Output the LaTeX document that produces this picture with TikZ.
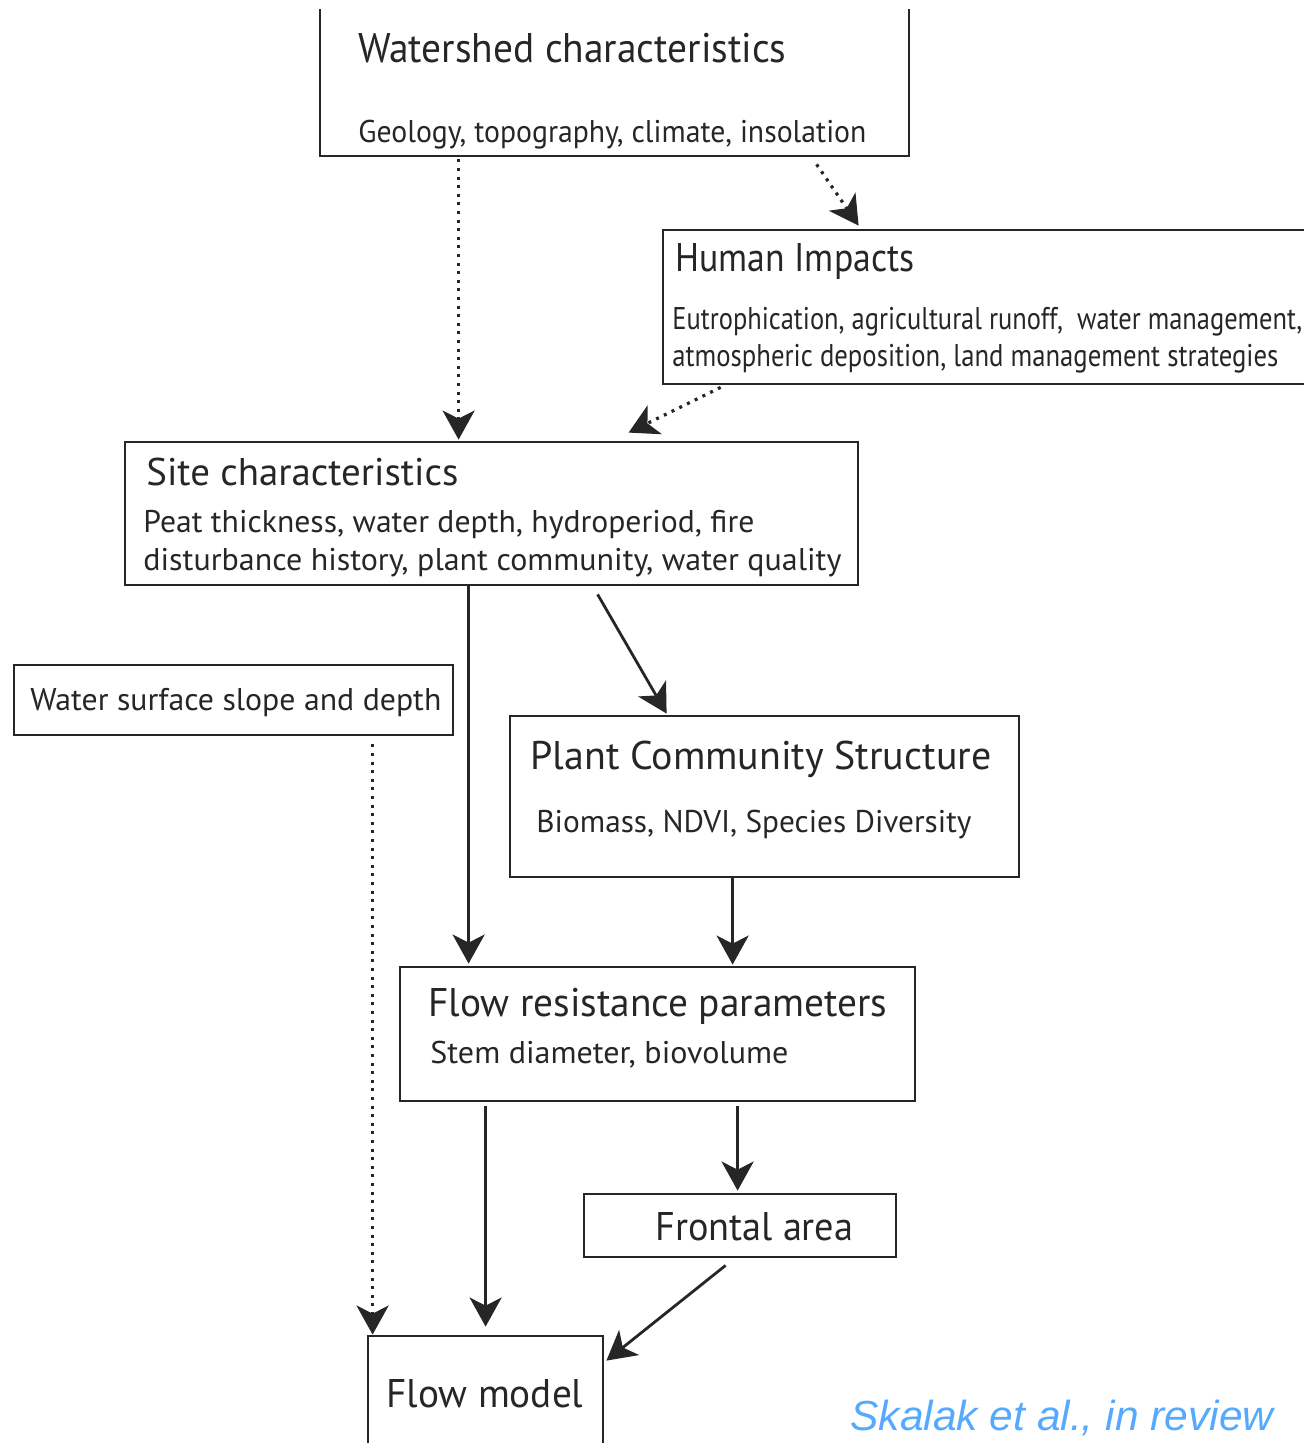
\documentclass[tikz,border=0pt]{standalone}
\usepackage{fontspec}
\usepackage{graphicx}
\setmainfont{PT Sans}
\newfontfamily\citefont{Liberation Sans}
\usetikzlibrary{fit,calc,arrows.meta}
\definecolor{citeblue}{HTML}{55AAFF}
\newcommand\tx[3]{\resizebox{#2}{\height}{\fontsize{#1}{#1}\selectfont #3}}
\tikzset{
  box/.style={draw=black!85, line width=1.4pt, inner sep=0pt, rectangle},
  lbl/.style={anchor=base west, inner sep=0pt, text=black!85},
  tipstyle/.style={-{Stealth[length=14.5pt,width=16pt,inset=4pt]}},
  conn/.style={line width=1.4pt, draw=black!85, tipstyle},
  dotconn/.style={line width=1.6pt, draw=black!85, dash pattern=on 1.5pt off 2.8pt, tipstyle},
}
\begin{document}
\begin{tikzpicture}[x=0.5pt,y=-0.5pt]
\useasboundingbox (0,0) rectangle (1304,1443);
\clip (0,10) rectangle (1304,1443);
% boxes
\node[box, fit={(320,-30) (909,156)}] (ws) {};
\node[box, fit={(663,230) (1340,384)}] (hi) {};
\node[box, fit={(125,442) (858,585)}] (site) {};
\node[box, fit={(14,665) (453,735)}] (wsd) {};
\node[box, fit={(510,716) (1019,877)}] (pc) {};
\node[box, fit={(400,967) (915,1101)}] (fr) {};
\node[box, fit={(584,1194) (896,1257)}] (fa) {};
\node[box, fit={(368,1336) (603,1480)}] (fm) {};
% texts
\node[lbl] (t1) at (358,63) {\tx{20.7pt}{214pt}{Watershed characteristics}};
\node[lbl] (t2) at (358,143) {\tx{15.7pt}{254pt}{Geology, topography, climate, insolation}};
\node[lbl] (t3) at (675,272) {\tx{20pt}{119.5pt}{Human Impacts}};
\node[lbl] (t4) at (672,330) {\tx{15.7pt}{315pt}{Eutrophication, agricultural runoff,\ \ water management,}};
\node[lbl] (t5) at (672,367) {\tx{15.7pt}{303pt}{atmospheric deposition, land management strategies}};
\node[lbl] (t6) at (146,485) {\tx{19.3pt}{156pt}{Site characteristics}};
\node[lbl] (t7) at (143,532) {\tx{15.7pt}{305.5pt}{Peat thickness, water depth, hydroperiod, fire}};
\node[lbl] (t8) at (143,570) {\tx{15.7pt}{349pt}{disturbance history, plant community, water quality}};
\node[lbl] (t9) at (30,710) {\tx{15.7pt}{205.5pt}{Water surface slope and depth}};
\node[lbl] (t10) at (530,769) {\tx{20pt}{230.5pt}{Plant Community Structure}};
\node[lbl] (t11) at (536,832) {\tx{15.7pt}{217.5pt}{Biomass, NDVI, Species Diversity}};
\node[lbl] (t12) at (428,1016) {\tx{20pt}{229.5pt}{Flow resistance parameters}};
\node[lbl] (t13) at (430,1063) {\tx{15.7pt}{179pt}{Stem diameter, biovolume}};
\node[lbl] (t14) at (655,1240) {\tx{20pt}{99pt}{Frontal area}};
\node[lbl] (t15) at (386,1407) {\tx{20pt}{98.5pt}{Flow model}};
\node[anchor=base west, inner sep=0pt, text=citeblue] (cite) at (850,1430) {\tx{21pt}{211.5pt}{\citefont\itshape Skalak et al., in review}};
% connectors
\draw[dotconn] ($(ws.south west)+(140,2)$) -- ($(site.north west)+(335,-1)$);
\draw[dotconn] ($(ws.south west)+(498,7)$) -- ($(hi.north west)+(197,-3)$);
\draw[dotconn] ($(hi.south west)+(59,2)$) -- ($(site.north west)+(505,-8)$);
\draw[conn] ($(site.south west)+(345,0)$) -- ($(fr.north west)+(70,-2)$);
\draw[conn] ($(site.south west)+(474,8)$) -- ($(pc.north west)+(158,-1)$);
\draw[conn] ($(pc.south west)+(224,0)$) -- ($(fr.north west)+(334,-1)$);
\draw[conn] ($(fr.south west)+(87,4)$) -- ($(fm.north west)+(119,-8)$);
\draw[conn] ($(fr.south west)+(339,4)$) -- ($(fa.north west)+(155,-2)$);
\draw[conn] ($(fa.south west)+(143,7)$) -- ($(fm.north east)+(2,26)$);
\draw[dotconn] ($(wsd.south west)+(360,8)$) -- ($(fm.north west)+(6,0)$);
\end{tikzpicture}
\end{document}
